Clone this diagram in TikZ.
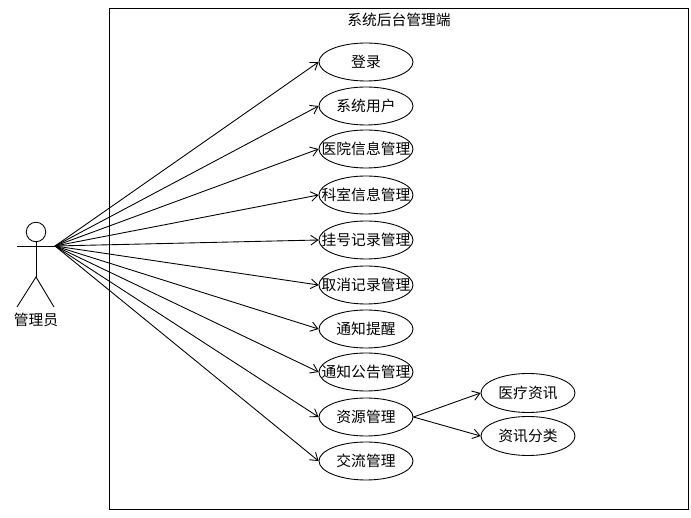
\documentclass[tikz,border=0pt]{standalone}
\usepackage{fontspec}
\setmainfont{Noto Sans CJK SC}
\usepackage{tikz}
\usetikzlibrary{arrows.meta,shapes.geometric}
\newcommand{\uclabel}[1]{\makebox[0pt]{#1}}

\begin{document}
\begin{tikzpicture}[
  font=\fontsize{8.4}{10}\selectfont,
  line width=0.5pt,
  >={Straight Barb[length=4pt,width=5.5pt]},
  % ---- node styles ----
  usecase/.style={
    draw, ellipse, inner sep=0pt,
    minimum width=1.88cm, minimum height=0.76cm
  },
  subcase/.style={
    draw, ellipse, inner sep=0pt,
    minimum width=1.88cm, minimum height=0.78cm
  },
  actorhead/.style={
    draw, circle, inner sep=0pt, minimum size=0.39cm
  },
  sysframe/.style={
    draw, inner sep=0pt, minimum width=11.58cm, minimum height=10.02cm
  },
]
\useasboundingbox (0,0) rectangle (13.82,10.36);

% ---- System frame ----
\node[sysframe] (frame) at (7.97, 5.19) {};
\node (title) at (7.98, 9.97) {系统后台管理端};

% ---- Actor ----
\node[actorhead] (head) at (0.72, 5.72) {};
\coordinate (armL) at (0.34, 5.44);
\coordinate (hand) at (1.10, 5.44);
\coordinate (hip)  at (0.72, 4.82);
\coordinate (legL) at (0.34, 4.22);
\coordinate (legR) at (1.08, 4.22);
\node (actor) at (0.72, 3.96) {管理员};
\draw (armL) -- (hand);
\draw (head) -- (hip);
\draw (legL) -- (hip) -- (legR);

% ---- Use cases ----
\node[usecase] (login)    at (7.32, 9.12) {\uclabel{登录}};
\node[usecase] (sysuser)  at (7.32, 8.24) {\uclabel{系统用户}};
\node[usecase] (hospital) at (7.32, 7.38) {\uclabel{医院信息管理}};
\node[usecase] (dept)     at (7.32, 6.46) {\uclabel{科室信息管理}};
\node[usecase] (booking)  at (7.32, 5.56) {\uclabel{挂号记录管理}};
\node[usecase] (cancel)   at (7.32, 4.66) {\uclabel{取消记录管理}};
\node[usecase] (remind)   at (7.32, 3.78) {\uclabel{通知提醒}};
\node[usecase] (notice)   at (7.32, 2.92) {\uclabel{通知公告管理}};
\node[usecase] (resource) at (7.32, 2.02) {\uclabel{资源管理}};
\node[usecase] (forum)    at (7.32, 1.14) {\uclabel{交流管理}};

% ---- Sub use cases ----
\node[subcase] (medinfo) at (10.56, 2.50) {\uclabel{医疗资讯}};
\node[subcase] (infocat) at (10.56, 1.64) {\uclabel{资讯分类}};

% ---- Actor arrows ----
\draw[->] (hand) -- (login.west);
\draw[->] (hand) -- (sysuser.west);
\draw[->] (hand) -- (hospital.west);
\draw[->] (hand) -- (dept.west);
\draw[->] (hand) -- (booking.west);
\draw[->] (hand) -- (cancel.west);
\draw[->] (hand) -- (remind.west);
\draw[->] (hand) -- (notice.west);
\draw[->] (hand) -- (resource.west);
\draw[->] (hand) -- (forum.west);

% ---- Resource arrows ----
\draw[->] (resource.east) -- (medinfo.west);
\draw[->] (resource.east) -- (infocat.west);

\end{tikzpicture}
\end{document}
